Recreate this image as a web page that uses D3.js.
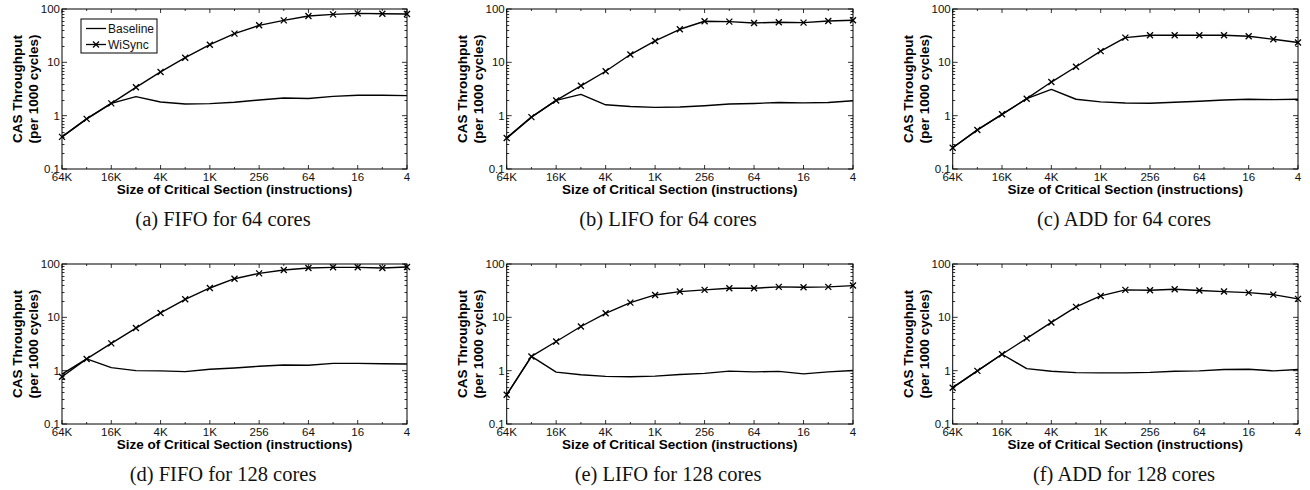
<!DOCTYPE html>
<html>
<head>
<meta charset="utf-8">
<script src="https://cdn.jsdelivr.net/npm/d3@7"></script>
<style>
  body { margin: 0; background: #fff; }
  svg { display: block; }
  .tick-label { font-family: "Liberation Sans", Arial, sans-serif; font-size: 11.5px; fill: #111; }
  .axis-title { font-family: "Liberation Sans", Arial, sans-serif; font-size: 13.5px; font-weight: bold; fill: #000; }
  .caption { font-family: "Liberation Serif", "Times New Roman", serif; font-size: 20.5px; fill: #111; }
  .legend-text { font-family: "Liberation Sans", Arial, sans-serif; font-size: 12px; fill: #111; }
</style>
</head>
<body>
<svg width="1310" height="490"></svg>
<script>
// critical section sizes (instructions), left to right
var sizes = [65536, 32768, 16384, 8192, 4096, 2048, 1024, 512, 256, 128, 64, 32, 16, 8, 4];
var sizeTicks = [65536, 16384, 4096, 1024, 256, 64, 16, 4];
var sizeTickLabels = ["64K", "16K", "4K", "1K", "256", "64", "16", "4"];
var yTicks = [0.1, 1, 10, 100];
var yTickLabels = ["0.1", "1", "10", "100"];
var seriesNames = ["Baseline", "WiSync"];
var captions = ["(a) FIFO for 64 cores", "(b) LIFO for 64 cores", "(c) ADD for 64 cores",
                "(d) FIFO for 128 cores", "(e) LIFO for 128 cores", "(f) ADD for 128 cores"];

// CAS throughput per 1000 cycles
var fifo64Baseline = [0.40, 0.87, 1.70, 2.27, 1.80, 1.66, 1.68, 1.78, 1.97, 2.14, 2.10, 2.30, 2.41, 2.41, 2.38];
var fifo64WiSync = [0.40, 0.87, 1.70, 3.4, 6.6, 12.2, 21.4, 34.5, 49.4, 61.3, 73.9, 79.4, 82.9, 81.7, 80.6];
var lifo64Baseline = [0.38, 0.94, 1.93, 2.50, 1.60, 1.49, 1.43, 1.45, 1.53, 1.65, 1.69, 1.77, 1.74, 1.77, 1.90];
var lifo64WiSync = [0.38, 0.94, 1.93, 3.63, 6.8, 14.0, 25.2, 41.7, 58.9, 58.0, 54.8, 56.4, 55.6, 59.7, 61.5];
var add64Baseline = [0.25, 0.54, 1.06, 2.08, 3.11, 2.03, 1.81, 1.73, 1.71, 1.78, 1.86, 1.97, 2.03, 2.00, 2.03];
var add64WiSync = [0.25, 0.54, 1.06, 2.08, 4.27, 8.26, 16.2, 29.1, 32.2, 32.2, 32.2, 32.2, 30.8, 27.1, 23.5];
var fifo128Baseline = [0.86, 1.66, 1.14, 1.00, 0.99, 0.96, 1.06, 1.12, 1.21, 1.28, 1.26, 1.37, 1.37, 1.35, 1.33];
var fifo128WiSync = [0.77, 1.66, 3.25, 6.3, 12.1, 21.8, 35.5, 53.0, 66.8, 77.2, 84.1, 86.6, 86.6, 84.1, 87.9];
var lifo128Baseline = [0.354, 1.85, 0.94, 0.84, 0.78, 0.77, 0.79, 0.85, 0.89, 0.98, 0.95, 0.97, 0.87, 0.95, 1.01];
var lifo128WiSync = [0.354, 1.85, 3.52, 6.73, 11.9, 18.9, 26.3, 30.4, 32.7, 35.1, 35.1, 37.2, 36.6, 37.2, 39.4];
var add128Baseline = [0.48, 0.99, 2.03, 1.09, 0.975, 0.92, 0.91, 0.91, 0.93, 0.975, 0.99, 1.05, 1.06, 0.99, 1.05];
var add128WiSync = [0.48, 0.99, 2.03, 4.03, 8.02, 15.7, 25.2, 32.7, 32.2, 33.6, 31.8, 30.4, 29.1, 26.7, 22.2];

var panelData = [
    [fifo64Baseline, fifo64WiSync], [lifo64Baseline, lifo64WiSync], [add64Baseline, add64WiSync],
    [fifo128Baseline, fifo128WiSync], [lifo128Baseline, lifo128WiSync], [add128Baseline, add128WiSync]
];

// layout of the 2x3 grid
var cols = [[62, 407], [506.7, 853], [952.7, 1298]];
var rows = [[9, 169], [264, 424]];
var captionX = [223, 668, 1124];

var svg = d3.select("svg");

var line = d3.line();

panelData.forEach(function (series, p) {
    var c = cols[p % 3], r = rows[Math.floor(p / 3)];
    var x = d3.scaleLog().base(2).domain([65536, 4]).range(c);
    var y = d3.scaleLog().domain([0.1, 100]).range([r[1], r[0]]);
    var g = svg.append("g");

    // minor y ticks (left and right, pointing inward)
    var minors = [];
    [0.1, 1, 10].forEach(function (d) {
        for (var k = 2; k <= 9; k++) minors.push(d * k);
    });
    g.selectAll(".ymin").data(minors).enter().append("path")
        .attr("d", function (d) {
            var yy = Math.round(y(d)) + 0.5;
            return "M" + c[0] + "," + yy + "h2.5M" + c[1] + "," + yy + "h-2.5";
        })
        .attr("stroke", "#000").attr("stroke-width", 0.8);

    g.selectAll(".ymaj").data(yTicks).enter().append("path")
        .attr("d", function (d) {
            var yy = y(d);
            return "M" + c[0] + "," + yy + "h5M" + c[1] + "," + yy + "h-5";
        })
        .attr("stroke", "#000").attr("stroke-width", 0.8);

    // x ticks (bottom and top)
    g.selectAll(".xmin").data(sizes).enter().append("path")
        .attr("d", function (d) {
            var isMaj = sizeTicks.indexOf(d) >= 0;
            var len = isMaj ? 4 : 2;
            var xx = x(d);
            return "M" + xx + "," + r[1] + "v" + (-len) + "M" + xx + "," + r[0] + "v" + len;
        })
        .attr("stroke", "#000").attr("stroke-width", 0.8);

    g.selectAll(".ylab").data(yTicks).enter().append("text")
        .attr("class", "tick-label")
        .attr("x", c[0] - 2)
        .attr("y", function (d) { return y(d); })
        .attr("dy", "0.36em")
        .attr("text-anchor", "end")
        .text(function (d, i) { return yTickLabels[i]; });

    g.selectAll(".xlab").data(sizeTicks).enter().append("text")
        .attr("class", "tick-label")
        .attr("x", function (d) { return x(d); })
        .attr("y", r[1] + 12)
        .attr("text-anchor", "middle")
        .text(function (d, i) { return sizeTickLabels[i]; });

    // axis titles
    g.append("text")
        .attr("class", "axis-title")
        .attr("x", (c[0] + c[1]) / 2)
        .attr("y", r[1] + 25)
        .attr("text-anchor", "middle")
        .text("Size of Critical Section (instructions)");

    var cy = (r[0] + r[1]) / 2;
    g.append("text")
        .attr("class", "axis-title")
        .attr("transform", "translate(" + (c[0] - 40) + "," + cy + ") rotate(-90)")
        .attr("text-anchor", "middle")
        .text("CAS Throughput");
    g.append("text")
        .attr("class", "axis-title")
        .attr("transform", "translate(" + (c[0] - 24) + "," + cy + ") rotate(-90)")
        .attr("text-anchor", "middle")
        .text("(per 1000 cycles)");

    // lines
    series.forEach(function (vals, s) {
        var pts = vals.map(function (v, i) { return [x(sizes[i]), y(v)]; });
        g.append("path")
            .attr("d", line(pts))
            .attr("fill", "none")
            .attr("stroke", "#000")
            .attr("stroke-width", 1.4)
            .attr("stroke-linejoin", "round");
        if (s === 1) {
            g.selectAll(".mk").data(pts).enter().append("path")
                .attr("d", function (d) {
                    return "M" + (d[0] - 3) + "," + (d[1] - 3) + "l6,6M" + (d[0] - 3) + "," + (d[1] + 3) + "l6,-6";
                })
                .attr("stroke", "#000")
                .attr("stroke-width", 1.3);
        }
    });

    // frame
    g.append("rect")
        .attr("x", c[0]).attr("y", r[0])
        .attr("width", c[1] - c[0]).attr("height", r[1] - r[0])
        .attr("fill", "none").attr("stroke", "#000").attr("stroke-width", 1);

    // caption
    svg.append("text")
        .attr("class", "caption")
        .attr("x", captionX[p % 3])
        .attr("y", r[1] + 57)
        .attr("text-anchor", "middle")
        .text(captions[p]);

    // legend only in first panel
    if (p === 0) {
        var lg = g.append("g");
        lg.append("rect")
            .attr("x", 81).attr("y", 19).attr("width", 76).attr("height", 34)
            .attr("fill", "#fff").attr("stroke", "#000").attr("stroke-width", 1);
        seriesNames.forEach(function (name, i) {
            var ly = 28.5 + i * 16;
            lg.append("path")
                .attr("d", "M86," + ly + "H106")
                .attr("stroke", "#000").attr("stroke-width", 1.3);
            if (i === 1) {
                lg.append("path")
                    .attr("d", "M93," + (ly - 3) + "l6,6M93," + (ly + 3) + "l6,-6")
                    .attr("stroke", "#000").attr("stroke-width", 1.2);
            }
            lg.append("text")
                .attr("class", "legend-text")
                .attr("x", 108).attr("y", ly)
                .attr("dy", "0.36em")
                .text(name);
        });
    }
});
</script>
</body>
</html>
